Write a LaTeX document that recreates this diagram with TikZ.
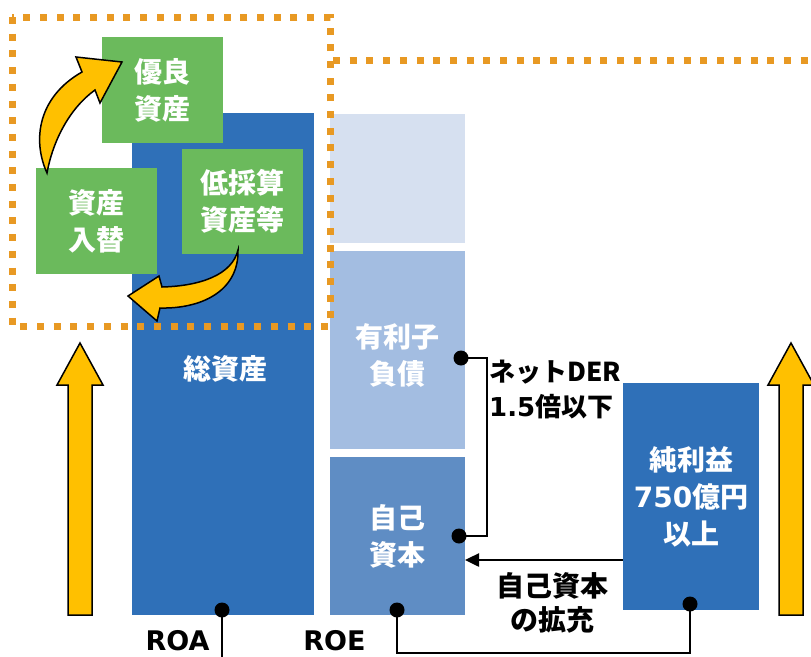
\documentclass[tikz,border=0pt]{standalone}
\usepackage{fontspec}
\setmainfont{Noto Sans CJK JP}
\newfontfamily\latn{DejaVu Sans}
\usetikzlibrary{arrows.meta}
\definecolor{blueA}{RGB}{47,112,184}
\definecolor{blueTop}{RGB}{214,224,240}
\definecolor{blueDebt}{RGB}{163,189,225}
\definecolor{blueEq}{RGB}{95,141,196}
\definecolor{greenA}{RGB}{107,186,92}
\definecolor{orangeD}{RGB}{232,153,35}
\definecolor{yellowA}{RGB}{255,192,0}
\begin{document}
\begin{tikzpicture}[x=1pt,y=-1pt,
  box/.style={draw=none,inner sep=0pt,outer sep=0pt,text=white,align=center,
    font=\fontsize{28}{37}\selectfont\bfseries},
  lbl/.style={inner sep=0pt,text=black,align=center,font=\fontsize{28}{34}\selectfont\bfseries},
  dotted border/.style={draw=orangeD,line width=7pt,dash pattern=on 7pt off 9.7pt},
  conn/.style={draw=black,line width=2.5pt},
  ball/.style={fill=black},
  bigarrow/.style={fill=yellowA,draw=black,line width=1.5pt,line join=miter}]
\useasboundingbox (0,0) rectangle (811,656);
% main boxes
\node[box,fill=blueA,minimum width=182pt,minimum height=502pt] (ta) at (223,364) {};
\node[lbl,text=white] (talbl) at (225,369) {総資産};
\node[box,fill=blueTop,minimum width=135pt,minimum height=129pt] (top) at (397.5,178.5) {};
\node[box,fill=blueDebt,minimum width=135pt,minimum height=198pt] (debt) at (397.5,350) {};
\node[box,fill=none] (debtlbl) at (397.5,355) {有利子\\負債};
\node[box,fill=blueEq,minimum width=135pt,minimum height=158pt] (eq) at (397.5,536) {自己\\資本};
\node[box,fill=blueA,minimum width=136pt,minimum height=227pt] (ni) at (691,496.5) {純利益\\{\latn 750}億円\\以上};
% green boxes
\node[box,fill=greenA,minimum width=121pt,minimum height=106pt] (good) at (162.5,90) {優良\\資産};
\node[box,fill=greenA,minimum width=121pt,minimum height=106pt] (swap) at (96.5,221) {資産\\入替};
\node[box,fill=greenA,minimum width=121pt,minimum height=105pt] (low) at (242.5,201) {低採算\\資産等};
% dotted frames
\draw[dotted border] (12,17) rectangle (330,326);
\draw[dotted border] (333,60) -- (815,60);
% curved arrows
\draw[bigarrow] (47,173) .. controls (32,140) and (38,97) .. (82,72) -- (76,57) -- (122,62) -- (100,103) -- (95,90) .. controls (70,108) and (53,140) .. (47,173) -- cycle;
\draw[bigarrow] (238,250) .. controls (239,292) and (200,309) .. (160,308) -- (157,321) -- (128,296) -- (159,276) -- (162,287) .. controls (200,286) and (232,275) .. (238,250) -- cycle;
% big straight arrows
\draw[bigarrow] (68,615) -- (68,385) -- (57,385) -- (80,343) -- (103,385) -- (92,385) -- (92,615) -- cycle;
\draw[bigarrow] (779,615) -- (779,385) -- (768,385) -- (791,343) -- (814,385) -- (803,385) -- (803,615) -- cycle;
% connectors
\coordinate (d1) at (461,358);
\coordinate (d2) at (459,536);
\coordinate (roa) at (222,610);
\coordinate (roaend) at (222,660);
\coordinate (roe) at (397,610);
\coordinate (nib) at (690,604);
\draw[conn] (d1) -- (487,358) -- (487,536) -- (d2);
\fill[ball] (d1) circle (7.5);
\fill[ball] (d2) circle (7.5);
\draw[conn] (roa) -- (roaend);
\fill[ball] (roa) circle (7.5);
\draw[conn] (roe) -- (397,653) -- (690,653) -- (nib);
\fill[ball] (roe) circle (7.5);
\fill[ball] (nib) circle (7.5);
\draw[conn,-{Triangle[length=14pt,width=13pt]}] (ni.west |- 0,560) -- (eq.east |- 0,560);
% labels
\node[lbl,anchor=west,align=left,font=\fontsize{26}{35}\selectfont\bfseries] (der) at (489,390) {ネットDER\\{\latn 1.5}倍以下};
\node[lbl] (exp) at (552,603) {自己資本\\の拡充};
\node[lbl,font=\latn\fontsize{27}{30}\selectfont\bfseries] (roalbl) at (177.5,641) {ROA};
\node[lbl,font=\latn\fontsize{27}{30}\selectfont\bfseries] (roelbl) at (334.5,641) {ROE};
\end{tikzpicture}
\end{document}
